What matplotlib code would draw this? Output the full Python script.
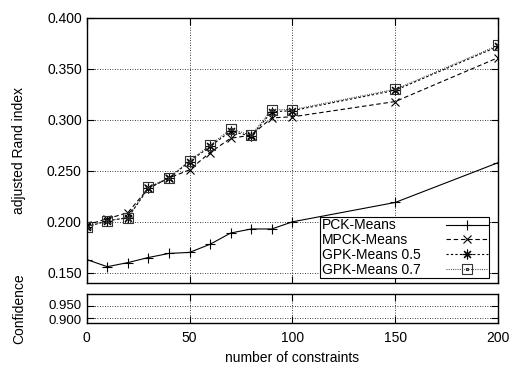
import matplotlib
matplotlib.use('Agg')
import matplotlib.pyplot as plt
from matplotlib.path import Path
from matplotlib.transforms import ScaledTranslation

plt.rcParams['font.family'] = ['Liberation Sans', 'DejaVu Sans']
plt.rcParams['font.size'] = 10

constraints = [0, 10, 20, 30, 40, 50, 60, 70, 80, 90, 100, 150, 200]
pck = [0.163, 0.156, 0.160, 0.165, 0.169, 0.170, 0.178, 0.189, 0.193, 0.193, 0.200, 0.219, 0.258]
mpck = [0.197, 0.203, 0.209, 0.233, 0.243, 0.251, 0.268, 0.282, 0.285, 0.302, 0.303, 0.318, 0.361]
gpk05 = [0.195, 0.201, 0.204, 0.233, 0.243, 0.259, 0.274, 0.289, 0.284, 0.308, 0.309, 0.329, 0.372]
gpk07 = [0.195, 0.201, 0.204, 0.234, 0.243, 0.260, 0.275, 0.291, 0.285, 0.310, 0.310, 0.330, 0.373]
xticks = [0, 50, 100, 150, 200]
yticks = [0.150, 0.200, 0.250, 0.300, 0.350, 0.400]
conf_ticks = [0.900, 0.950]

# square with a dot in the middle (gnuplot style)
sq_verts = [(-1, -1), (1, -1), (1, 1), (-1, 1), (-1, -1),
            (-0.15, -0.15), (0.15, -0.15), (0.15, 0.15), (-0.15, 0.15), (-0.15, -0.15)]
sq_codes = [Path.MOVETO, Path.LINETO, Path.LINETO, Path.LINETO, Path.CLOSEPOLY] * 2
dot_square = Path(sq_verts, sq_codes)

fig = plt.figure(figsize=(5.11, 3.67), dpi=100)
ax = fig.add_axes([0.1697, 0.2289, 0.8049, 0.7222])
ax2 = fig.add_axes([0.1697, 0.1199, 0.8049, 0.0790])

lw = 0.8
ax.plot(constraints, pck, color='black', lw=lw, ls='-', marker='+', ms=7, mew=0.8, label='PCK-Means')
ax.plot(constraints, mpck, color='black', lw=lw, ls=(0, (4, 2.5)), marker='x', ms=6, mew=0.8, label='MPCK-Means')
ax.plot(constraints, gpk05, color='black', lw=lw, ls=(0, (2, 2)), marker=(8, 2, 0), ms=7, mew=0.8, label='GPK-Means 0.5')
ax.plot(constraints, gpk07, color='#333333', lw=lw, ls=(0, (0.8, 1.2)), marker=dot_square, ms=6.5, mew=0.8,
        mfc='none', label='GPK-Means 0.7')

for a in (ax, ax2):
    a.set_xlim(0, 200)
    a.set_xticks(xticks)
    a.grid(True, color='black', ls=(0, (1, 2)), lw=0.6)
    a.tick_params(direction='in', top=True, right=True, length=5, width=0.8, labelsize=10)
    for s in a.spines.values():
        s.set_linewidth(1.0)

ax.set_ylim(0.140, 0.400)
ax.set_yticks(yticks)
ax.set_yticklabels(['%.3f' % v for v in yticks])
ax.tick_params(labelbottom=False)
ax.set_ylabel('adjusted Rand index')
ax.yaxis.set_label_coords(-0.148, 0.5)

ax2.set_ylim(0.879, 1.0)
ax2.set_yticks(conf_ticks)
ax2.set_yticklabels(['%.3f' % v for v in conf_ticks])
ax2.tick_params(axis='y', labelsize=9.5)
ax2.tick_params(axis='x', pad=6)
ax2.set_ylabel('Confidence')
ax2.yaxis.set_label_coords(-0.148, 0.5)
ax2.set_xlabel('number of constraints', labelpad=4)

# the two confidence labels sit very close: nudge them apart a little
lbls = ax2.get_yticklabels()
lbls[0].set_transform(lbls[0].get_transform() + ScaledTranslation(0, -1.2 / 72, fig.dpi_scale_trans))
lbls[1].set_transform(lbls[1].get_transform() + ScaledTranslation(0, 1.2 / 72, fig.dpi_scale_trans))

leg = ax.legend(loc='lower right', bbox_to_anchor=(0.978, 0.019), borderaxespad=0,
                markerfirst=False, fancybox=False, framealpha=1, edgecolor='black',
                handlelength=3.0, handletextpad=1.5, labelspacing=0.05, borderpad=0.1,
                fontsize=10)
leg.get_frame().set_linewidth(0.8)

# left-align the labels: stretch every row to the same width
for col in leg._legend_handle_box.get_children():
    for row in col.get_children():
        row.mode = 'expand'
        row.width = 166

plt.savefig('out.png', dpi=100)
